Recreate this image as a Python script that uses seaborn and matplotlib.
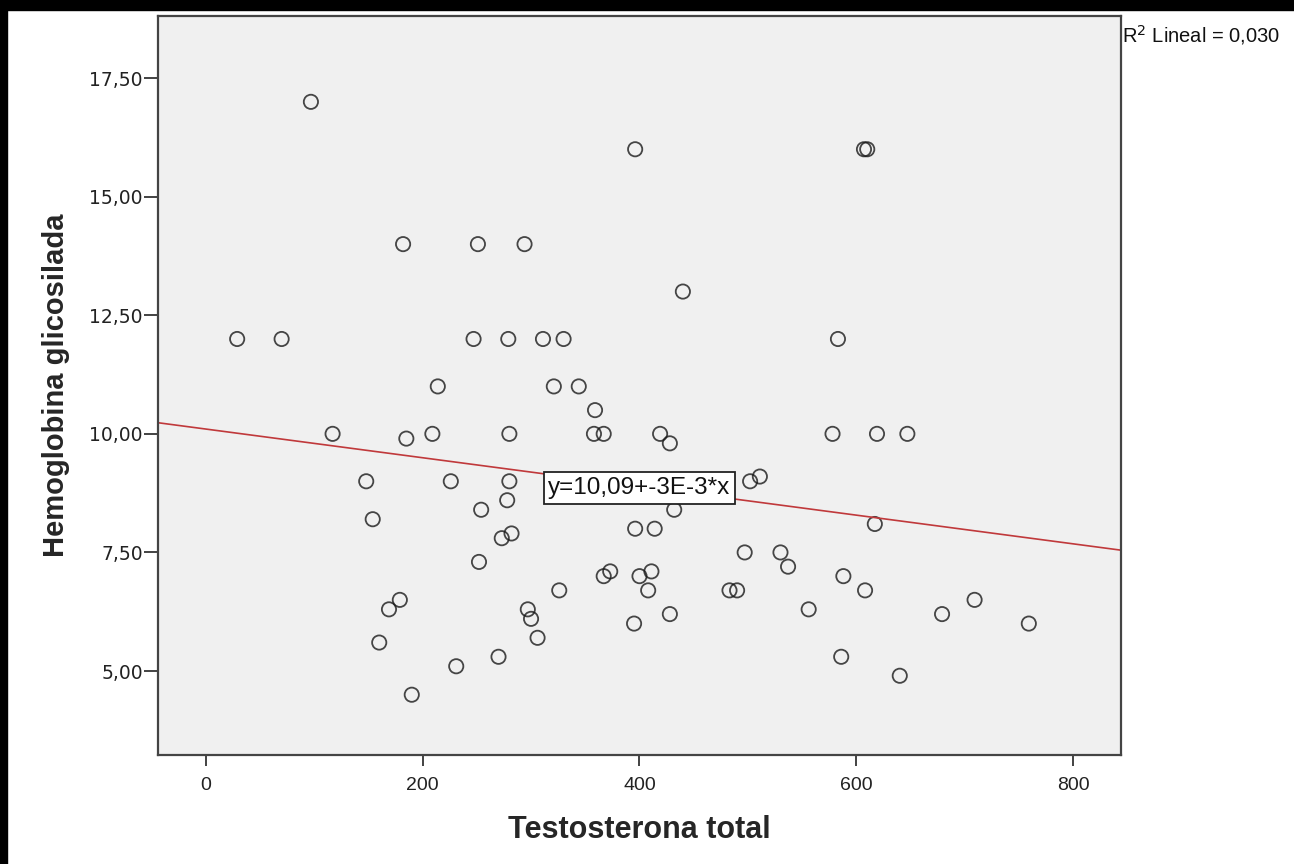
import matplotlib
matplotlib.use("Agg")
import matplotlib.pyplot as plt
from matplotlib.patches import Rectangle
import seaborn as sns
import pandas as pd

# values
testosterona = [97, 29, 70, 117, 148, 154, 169, 179, 160, 182,
                185, 190, 209, 214, 226, 231, 247, 251, 252, 254,
                270, 273, 278, 280, 279, 280, 282, 294, 297, 300,
                306, 311, 321, 326, 330, 344, 359, 358, 367, 367,
                373, 396, 395, 396, 400, 408, 411, 414, 419, 428,
                428, 440, 432, 502, 511, 497, 530, 537, 483, 490,
                556, 583, 578, 619, 647, 617, 588, 608, 586, 640,
                679, 709, 759, 607, 610]
hemoglobina = [17.0, 12.0, 12.0, 10.0, 9.0, 8.2, 6.3, 6.5, 5.6, 14.0,
               9.9, 4.5, 10.0, 11.0, 9.0, 5.1, 12.0, 14.0, 7.3, 8.4,
               5.3, 7.8, 8.6, 10.0, 12.0, 9.0, 7.9, 14.0, 6.3, 6.1,
               5.7, 12.0, 11.0, 6.7, 12.0, 11.0, 10.5, 10.0, 10.0, 7.0,
               7.1, 16.0, 6.0, 8.0, 7.0, 6.7, 7.1, 8.0, 10.0, 9.8,
               6.2, 13.0, 8.4, 9.0, 9.1, 7.5, 7.5, 7.2, 6.7, 6.7,
               6.3, 12.0, 10.0, 10.0, 10.0, 8.1, 7.0, 6.7, 5.3, 4.9,
               6.2, 6.5, 6.0, 16.0, 16.0]
x_ticks = [0, 200, 400, 600, 800]
y_ticks = [5.0, 7.5, 10.0, 12.5, 15.0, 17.5]
y_tick_labels = ["5,00", "7,50", "10,00", "12,50", "15,00", "17,50"]
fit_label = "y=10,09+-3E-3*x"
r2_label = "R$^2$ Lineal = 0,030"

df = pd.DataFrame({"Testosterona total": testosterona,
                   "Hemoglobina glicosilada": hemoglobina})

sns.set_style("ticks", {"axes.facecolor": "#f0f0f0",
                        "axes.edgecolor": "#444444"})
plt.rcParams["font.family"] = ["Liberation Sans", "DejaVu Sans"]

fig = plt.figure(figsize=(12.94, 8.64), dpi=100)
ax = fig.add_axes([0.1221, 0.1262, 0.7442, 0.8553])
ax.set_xlim(-44, 844)
ax.set_ylim(3.23, 18.81)

sns.regplot(data=df, x="Testosterona total", y="Hemoglobina glicosilada",
            ax=ax, ci=None, truncate=False,
            scatter_kws={"s": 105, "facecolors": "none",
                         "edgecolors": "#1a1a1a", "linewidths": 1.3},
            line_kws={"color": "#c0393b", "linewidth": 1.2})

ax.set_xticks(x_ticks)
ax.set_xticklabels([str(t) for t in x_ticks], fontsize=14)
ax.set_yticks(y_ticks)
ax.set_yticklabels(y_tick_labels, family="DejaVu Sans", fontsize=13.5)
ax.tick_params(axis="x", length=8, width=1.2, colors="#222222", pad=8)
ax.tick_params(axis="y", length=10, width=1.2, colors="#222222", pad=1)
for s in ax.spines.values():
    s.set_linewidth(1.6)
    s.set_visible(True)

ax.set_xlabel("Testosterona total", fontweight="bold",
              fontsize=22, labelpad=15)
ax.set_ylabel("Hemoglobina glicosilada", fontweight="bold",
              fontsize=21, labelpad=14)

ax.text(400, 8.86, fit_label, ha="center", va="center", fontsize=17.5,
        color="#111111", zorder=5,
        bbox=dict(boxstyle="square,pad=0.2", facecolor="white",
                  edgecolor="#222222", linewidth=1.3))

fig.text(1122 / 1294, 1 - 35 / 864, r2_label, fontsize=14.5,
         ha="left", va="center", color="#111111")

# black strips along the top and left border of the screenshot
fig.patches.append(Rectangle((0, 1 - 10 / 864), 1, 10 / 864,
                             transform=fig.transFigure, color="black"))
fig.patches.append(Rectangle((0, 0), 7 / 1294, 1,
                             transform=fig.transFigure, color="black"))

fig.savefig("out.png", dpi=100)
